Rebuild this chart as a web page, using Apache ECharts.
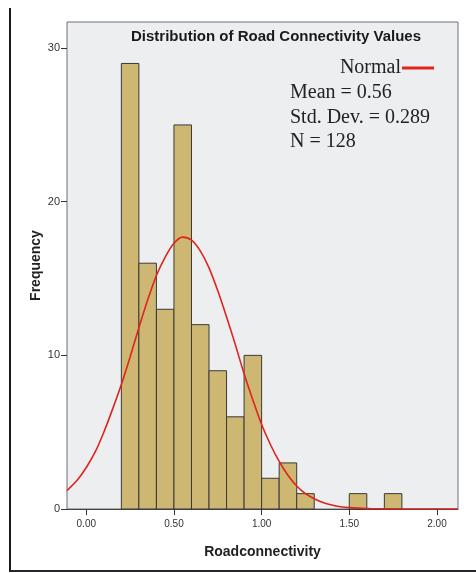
<!DOCTYPE html>
<html>
<head>
<meta charset="utf-8">
<script src="https://cdn.jsdelivr.net/npm/echarts@6/dist/echarts.min.js"></script>
<style>
  html, body { margin: 0; padding: 0; background: #fff; }
  #chart { width: 476px; height: 573px; }
</style>
</head>
<body>
<div id="chart"></div>
<script>
// histogram bins (width 0.1)
var binStarts = [0.2, 0.3, 0.4, 0.5, 0.6, 0.7, 0.8, 0.9, 1.0, 1.1, 1.2, 1.5, 1.7];
var binCounts = [29, 16, 13, 25, 12, 9, 6, 10, 2, 3, 1, 1, 1];
var binWidth = 0.1;

// normal curve, read at the plotted positions
var curveX = [-0.11, -0.05, 0.0, 0.05, 0.1, 0.15, 0.2, 0.25, 0.3, 0.35, 0.4, 0.45, 0.5, 0.55, 0.6,
              0.65, 0.7, 0.75, 0.8, 0.85, 0.9, 0.95, 1.0, 1.05, 1.1, 1.15, 1.2, 1.25, 1.3, 1.35,
              1.4, 1.45, 1.5, 1.6, 1.7, 1.8, 2.0, 2.12];
var curveY = [1.2, 1.9, 2.7, 3.7, 5.0, 6.5, 8.1, 9.9, 11.8, 13.6, 15.2, 16.4, 17.3, 17.7, 17.5,
              16.8, 15.7, 14.2, 12.5, 10.7, 8.8, 7.1, 5.5, 4.2, 3.1, 2.2, 1.5, 1.0, 0.67, 0.42,
              0.26, 0.15, 0.09, 0.03, 0.01, 0, 0, 0];

var xTicks = [0, 0.5, 1.0, 1.5, 2.0];
var yTicks = [0, 10, 20, 30];
var legendLines = ['Mean = 0.56', 'Std. Dev. = 0.289', 'N = 128'];

var chart = echarts.init(document.getElementById('chart'));

var barData = binStarts.map(function (s, i) { return [s, s + binWidth, binCounts[i]]; });
var lineData = curveX.map(function (x, i) { return [x, curveY[i]]; });

var serif = '"Liberation Serif", "DejaVu Serif", serif';
var sans = '"Liberation Sans", Arial, sans-serif';

var option = {
    backgroundColor: '#ffffff',
    animation: false,
    grid: {
        left: 67, top: 22, right: 18, bottom: 64,
        show: true,
        backgroundColor: '#eceef0',
        borderColor: '#6f6f78',
        borderWidth: 1
    },
    xAxis: {
        type: 'value',
        min: -0.11,
        max: 2.12,
        name: 'Roadconnectivity',
        nameLocation: 'middle',
        nameGap: 36,
        nameTextStyle: { fontFamily: sans, fontWeight: 'bold', fontSize: 14, color: '#222' },
        axisLine: { show: true, onZero: false, lineStyle: { color: '#444', width: 1 } },
        axisTick: { show: true, length: 6, customValues: xTicks, lineStyle: { color: '#333' } },
        axisLabel: {
            customValues: xTicks,
            fontFamily: sans, fontSize: 10, color: '#333', margin: 10,
            formatter: function (v) { return v.toFixed(2); }
        },
        splitLine: { show: false }
    },
    yAxis: {
        type: 'value',
        min: 0,
        max: 31.7,
        name: 'Frequency',
        nameLocation: 'middle',
        nameGap: 24,
        nameMoveOverlap: false,
        nameRotate: 90,
        nameTextStyle: { fontFamily: sans, fontWeight: 'bold', fontSize: 14, color: '#222' },
        axisLine: { show: false, onZero: false },
        axisTick: { show: true, length: 6, customValues: yTicks, lineStyle: { color: '#333' } },
        axisLabel: { customValues: yTicks, fontFamily: sans, fontSize: 11, color: '#333', margin: 7 },
        splitLine: { show: false }
    },
    title: {
        text: 'Distribution of Road Connectivity Values',
        left: 271, top: 24, textAlign: 'center',
        textStyle: { fontFamily: sans, fontWeight: 'bold', fontSize: 15, color: '#1a1a1a' }
    },
    series: [
        {
            type: 'custom',
            data: barData,
            encode: { x: [0, 1], y: 2 },
            renderItem: function (params, api) {
                var p0 = api.coord([api.value(0), api.value(2)]);
                var p1 = api.coord([api.value(1), 0]);
                return {
                    type: 'rect',
                    shape: { x: p0[0], y: p0[1], width: p1[0] - p0[0], height: p1[1] - p0[1] },
                    style: { fill: '#cdb772', stroke: '#3a3a3a', lineWidth: 1 }
                };
            },
            z: 2
        },
        {
            type: 'line',
            data: lineData,
            smooth: 0.3,
            symbol: 'none',
            lineStyle: { color: '#e0231c', width: 1.6 },
            z: 3
        }
    ],
    graphic: [
        { type: 'line', shape: { x1: 10, y1: 8, x2: 10, y2: 572 }, style: { stroke: '#1a1a1a', lineWidth: 2 } },
        { type: 'line', shape: { x1: 10, y1: 571, x2: 476, y2: 571 }, style: { stroke: '#2a2230', lineWidth: 2 } },
        { type: 'text', right: 476 - 401, top: 58, style: { text: 'Normal', font: '20px ' + serif, fill: '#222' } },
        { type: 'line', shape: { x1: 402, y1: 68, x2: 434, y2: 68 }, style: { stroke: '#e0231c', lineWidth: 3 } },
        { type: 'text', left: 290, top: 83, style: { text: legendLines[0], font: '20px ' + serif, fill: '#222' } },
        { type: 'text', left: 290, top: 108, style: { text: legendLines[1], font: '20px ' + serif, fill: '#222' } },
        { type: 'text', left: 290, top: 132, style: { text: legendLines[2], font: '20px ' + serif, fill: '#222' } }
    ]
};

chart.setOption(option);
</script>
</body>
</html>
